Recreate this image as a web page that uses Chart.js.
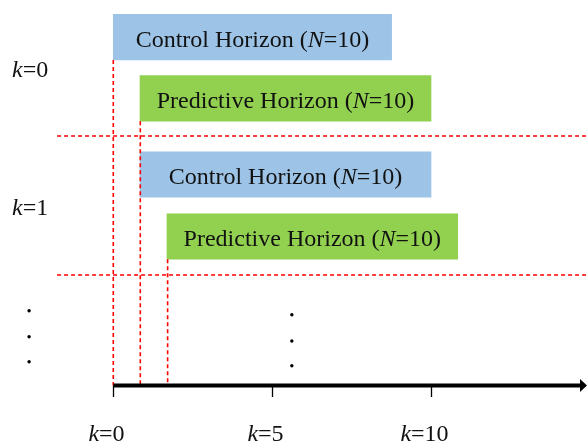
<!DOCTYPE html>
<html><head><meta charset="utf-8">
<script src="https://cdn.jsdelivr.net/npm/chart.js@4.4.1/dist/chart.umd.min.js"></script>
<style>html,body{margin:0;padding:0;background:#fff;overflow:hidden;}</style>
</head><body>
<canvas id="c" width="587" height="444"></canvas>
<script>
// ---- data ----
const barNames   = ['Control Horizon', 'Predictive Horizon', 'Control Horizon', 'Predictive Horizon'];
const barN       = [10, 10, 10, 10];
const barStart   = [0, 0.84, 0.84, 1.69];
const barEnd     = [8.76, 10.0, 10.0, 10.84];
const barRow     = [37.2, 98.4, 174.5, 236.5];     // vertical row of each bar
const stepLabels = ['k=0', 'k=1'];
const stepShift  = [0, 0.85, 1.71];                  // k where each horizon starts
const tickValues = [0, 5, 10];
const tickLabels = ['k=0', 'k=5', 'k=10'];
const dotsLeftX  = [-2.65, -2.65, -2.65];
const dotsLeftY  = [310.7, 336.7, 361.7];
const dotsMidX   = [5.62, 5.62, 5.62];
const dotsMidY   = [314.7, 341, 365.7];

// ---- layout ----
const X_MIN = -3.566, X_MAX = 14.91, Y_MAX = 444;
const BAR_H = 45.5;
const AXIS_Y = 385.5;
const SEP_Y = [136, 275];
const SEP_X0 = -1.77;
const BLUE = '#9DC3E6', GREEN = '#92D050', RED = '#FF0000';
const FONT = '"Liberation Serif", "Times New Roman", serif';

const barColors = barNames.map(n => n.startsWith('Control') ? BLUE : GREEN);
const bottomsFor = [0, 1, 3].map(i => barRow[i] + BAR_H / 2);

const dashed = (pts) => ({
  type: 'line', data: pts, borderColor: RED, borderWidth: 1.6, borderDash: [4, 3],
  pointRadius: 0, pointHoverRadius: 0, fill: false, tension: 0, order: 1
});

const datasets = [
  {
    type: 'bar', indexAxis: 'y', order: 3,
    data: barStart.map((s, i) => ({ x: [s, barEnd[i]], y: barRow[i] })),
    backgroundColor: barColors, borderWidth: 0, barThickness: BAR_H
  },
  ...SEP_Y.map(y => dashed([{ x: SEP_X0, y }, { x: X_MAX, y }])),
  ...stepShift.map((k, i) => dashed([{ x: k, y: bottomsFor[i] }, { x: k, y: AXIS_Y }])),
  {
    type: 'line', order: 0,
    data: [{ x: 0, y: AXIS_Y }, { x: X_MAX - 0.2, y: AXIS_Y }],
    borderColor: '#000', borderWidth: 4, pointRadius: 0, pointHoverRadius: 0, borderCapStyle: 'butt'
  },
  {
    type: 'scatter', order: 0,
    data: dotsLeftX.map((x, i) => ({ x, y: dotsLeftY[i] }))
      .concat(dotsMidX.map((x, i) => ({ x, y: dotsMidY[i] }))),
    backgroundColor: '#000', borderWidth: 0, pointRadius: 1.7, pointHoverRadius: 1.7
  }
];

function drawRich(ctx, parts, cx, baseY) {
  let w = 0;
  parts.forEach(p => { ctx.font = (p.i ? 'italic ' : '') + '24px ' + FONT; p.w = ctx.measureText(p.t).width; w += p.w; });
  let x = cx - w / 2;
  parts.forEach(p => { ctx.font = (p.i ? 'italic ' : '') + '24px ' + FONT; ctx.fillText(p.t, x, baseY); x += p.w; });
}
function kParts(lbl) {
  const [a, b] = lbl.split('=');
  return [{ t: a, i: true }, { t: '=' + b, i: false }];
}

const overlay = {
  id: 'overlay',
  afterDatasetsDraw(chart) {
    const { ctx, scales: { x, y } } = chart;
    ctx.save();
    ctx.fillStyle = '#111';
    ctx.textAlign = 'left';
    ctx.textBaseline = 'alphabetic';
    // bar labels
    barNames.forEach((n, i) => {
      const cx = (x.getPixelForValue(barStart[i]) + x.getPixelForValue(barEnd[i])) / 2;
      drawRich(ctx, [{ t: n + ' (', i: false }, { t: 'N', i: true }, { t: '=' + barN[i] + ')', i: false }],
        cx, y.getPixelForValue(barRow[i]) + 9.5);
    });
    // step labels
    stepLabels.forEach((l, s) => {
      const mid = (barRow[2 * s] + barRow[2 * s + 1]) / 2;
      const parts = kParts(l);
      let w = 0;
      parts.forEach(p => { ctx.font = (p.i ? 'italic ' : '') + '24px ' + FONT; w += ctx.measureText(p.t).width; });
      drawRich(ctx, parts, 12 + w / 2, y.getPixelForValue(mid) + 9);
    });
    // axis ticks + labels
    const ay = y.getPixelForValue(AXIS_Y);
    ctx.strokeStyle = '#000';
    ctx.lineWidth = 1.3;
    tickValues.forEach((v, i) => {
      const px = Math.round(x.getPixelForValue(v)) + 0.5;
      ctx.beginPath(); ctx.moveTo(px, ay); ctx.lineTo(px, ay + 11.5); ctx.stroke();
      drawRich(ctx, kParts(tickLabels[i]), px - 7, ay + 55);
    });
    // arrow head
    const tip = x.getPixelForValue(X_MAX);
    ctx.fillStyle = '#000';
    ctx.beginPath();
    ctx.moveTo(tip, ay);
    ctx.lineTo(tip - 7, ay - 6.5);
    ctx.lineTo(tip - 7, ay + 6.5);
    ctx.closePath();
    ctx.fill();
    ctx.restore();
  }
};

new Chart(document.getElementById('c'), {
  data: { datasets },
  options: {
    responsive: false, animation: false, events: [],
    layout: { padding: 0, autoPadding: false },
    plugins: { legend: { display: false }, tooltip: { enabled: false } },
    scales: {
      x: { type: 'linear', min: X_MIN, max: X_MAX, display: false, offset: false, grid: { offset: false } },
      y: { type: 'linear', min: 0, max: Y_MAX, reverse: true, display: false, offset: false, grid: { offset: false } }
    }
  },
  plugins: [overlay]
});
</script>
</body></html>
